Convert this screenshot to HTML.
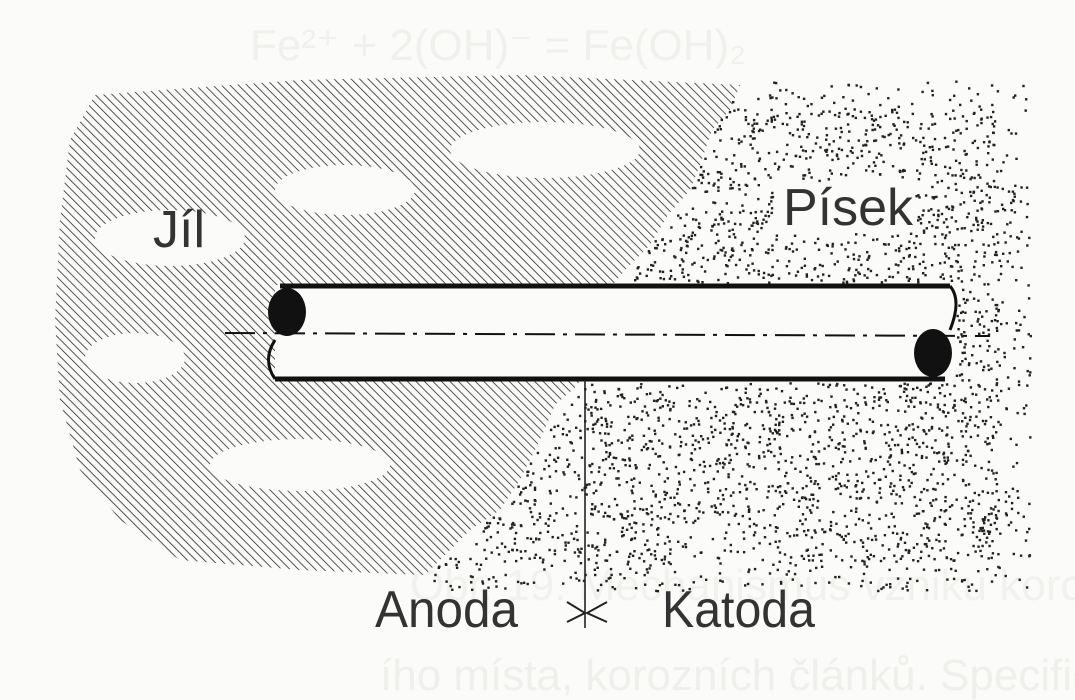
<!DOCTYPE html>
<html><head><meta charset="utf-8"><style>
html,body{margin:0;padding:0;background:#fbfbf9;}
svg{display:block}
text{font-family:"Liberation Sans",sans-serif;}
</style></head><body>
<svg id="s" width="1075" height="700" viewBox="0 0 1075 700" xmlns="http://www.w3.org/2000/svg">
<defs>
<pattern id="h" width="6" height="6" patternUnits="userSpaceOnUse" patternTransform="rotate(-45)">
<rect width="6" height="6" fill="#fbfbf9"/>
<line x1="0" y1="0" x2="0" y2="6" stroke="#2a2a2a" stroke-width="1.6"/>
</pattern>
</defs>
<rect width="1075" height="700" fill="#fbfbf9"/>
<!-- ghost text -->
<text x="250" y="60" font-size="44" fill="#f0f0ed">Fe²⁺ + 2(OH)⁻ = Fe(OH)₂</text>
<text x="410" y="600" font-size="44" fill="#f1f1ee">Obr. 19. Mechanismus vzniku korozní cely</text>
<text x="380" y="690" font-size="44" fill="#efefec">ího místa, korozních článků. Specifické klasifikace</text>
<!-- clay -->
<path id="clay" d="M95,95 L300,80 L520,75 L740,85 L730,110 L712,130 L700,165 L690,190 L668,215 L650,245 L625,270 L600,300 L590,345 L578,385 L555,405 L540,440 L520,480 L500,510 L470,530 L440,560 L425,575 L300,570 L180,560 L120,520 L80,470 L60,400 L55,320 L60,220 L70,140 Z" fill="url(#h)"/>
<g fill="#fbfbf9">
<ellipse cx="345" cy="190" rx="70" ry="25"/>
<ellipse cx="545" cy="150" rx="95" ry="28"/>
<ellipse cx="170" cy="238" rx="75" ry="28"/>
<ellipse cx="135" cy="358" rx="50" ry="25"/>
<ellipse cx="300" cy="465" rx="90" ry="26"/>
</g>
<g id="sand" fill="#222"></g>
<!-- pipe -->
<rect x="275" y="285" width="675" height="95" fill="#fbfbf9"/>
<line x1="280" y1="286" x2="950" y2="286" stroke="#111" stroke-width="5"/>
<line x1="275" y1="379" x2="945" y2="379" stroke="#111" stroke-width="5"/>
<path d="M275,340 Q262,360 275,379" fill="none" stroke="#111" stroke-width="3"/>
<path d="M950,286 Q962,300 950,330" fill="none" stroke="#111" stroke-width="3"/>
<line x1="225" y1="333" x2="990" y2="336" stroke="#111" stroke-width="2" stroke-dasharray="30,8,4,8"/>
<ellipse cx="287" cy="312" rx="19" ry="24" fill="#111"/>
<ellipse cx="933" cy="353" rx="19" ry="24" fill="#111"/>
<!-- boundary line -->
<line x1="585" y1="380" x2="585" y2="628" stroke="#222" stroke-width="1.6"/>
<path d="M567,602 L585,613 L567,622 M607,602 L587,613 L607,622" fill="none" stroke="#222" stroke-width="2"/>
<g fill="#333">
<text x="153" y="247" font-size="52">Jíl</text>
<text x="783" y="225" font-size="52">Písek</text>
<text x="375" y="627" font-size="52" textLength="143" lengthAdjust="spacingAndGlyphs">Anoda</text>
<text x="662" y="627" font-size="52" textLength="153" lengthAdjust="spacingAndGlyphs">Katoda</text>
</g>
</svg>
<script>
(function(){
var g=document.getElementById('sand');var s=12345;
function r(){s=(s*16807)%2147483647;return s/2147483647;}
function inClay(x,y){
 var pts=[[740,85],[712,130],[690,190],[650,245],[600,300],[578,385],[540,440],[500,510],[440,560],[425,590]];
 for(var i=0;i<pts.length-1;i++){var a=pts[i],b=pts[i+1];if(y>=a[1]&&y<=b[1]){var bx=a[0]+(b[0]-a[0])*(y-a[1])/(b[1]-a[1]);return x<bx;}}
 return x<740;
}
var h='';
for(var i=0;i<5200;i++){
 var x=420+r()*610,y=80+r()*510;
 if(inClay(x,y))continue;
 if(x>1000&&r()<0.5)continue;
 if(y<110&&r()<0.5)continue;
 if(y>282&&y<382&&x>270&&x<955)continue;
 if(y>560&&r()<0.5)continue;
 if(x>775&&x<915&&y>180&&y<232)continue;
 h+='<rect x="'+x.toFixed(1)+'" y="'+y.toFixed(1)+'" width="2.4" height="2.4"/>';
}
g.innerHTML=h;
})();
</script>
</body></html>
